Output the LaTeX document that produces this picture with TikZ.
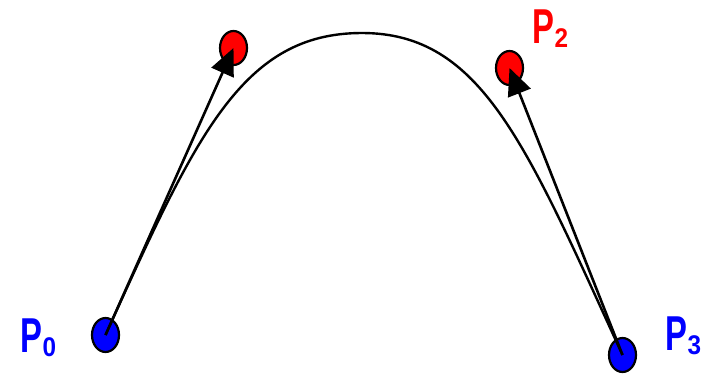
\documentclass[tikz,border=0pt]{standalone}
\usepackage{fontspec}
\setmainfont{Liberation Sans}
\usetikzlibrary{shapes.geometric, arrows.meta}
\newcommand{\ptlabel}[1]{\scalebox{0.67}[1]{\fontsize{49}{49}\selectfont\bfseries P}\raisebox{-4pt}{\scalebox{0.9}[1]{\fontsize{27}{27}\selectfont\bfseries #1}}}
\begin{document}
\begin{tikzpicture}[x=1pt,y=-1pt,
  ctrl/.style={ellipse, draw=black, line width=2.2pt, minimum width=27pt, minimum height=34pt, inner sep=0pt},
  endpt/.style={ctrl, fill=blue},
  midpt/.style={ctrl, fill=red},
  tangent/.style={line width=2.6pt, -{Triangle[length=27pt,width=24pt]}},
  curve/.style={line width=2.4pt},
  lbl/.style={anchor=base west, inner sep=0pt}]
\useasboundingbox (0,0) rectangle (711,373);
\node[endpt] (p0) at (105.5,335) {};
\node[midpt] (p1) at (233.5,48) {};
\node[midpt] (p2) at (509.5,68) {};
\node[endpt] (p3) at (622.5,355) {};
\coordinate (top) at (362,33);
\draw[curve] (p0.center) .. controls (196,135) and (242,33) .. (top)
  .. controls (482,33) and (526,145) .. (p3.center);
\draw[tangent] (p0.center) -- (p1.center);
\draw[tangent] (p3.center) -- (p2.center);
\node[lbl, text=blue] (l0) at (20.5,352) {\ptlabel{0}};
\node[lbl, text=blue] (l3) at (665.5,350) {\ptlabel{3}};
\node[lbl, text=red] (l2) at (532.5,43) {\ptlabel{2}};
\end{tikzpicture}
\end{document}
